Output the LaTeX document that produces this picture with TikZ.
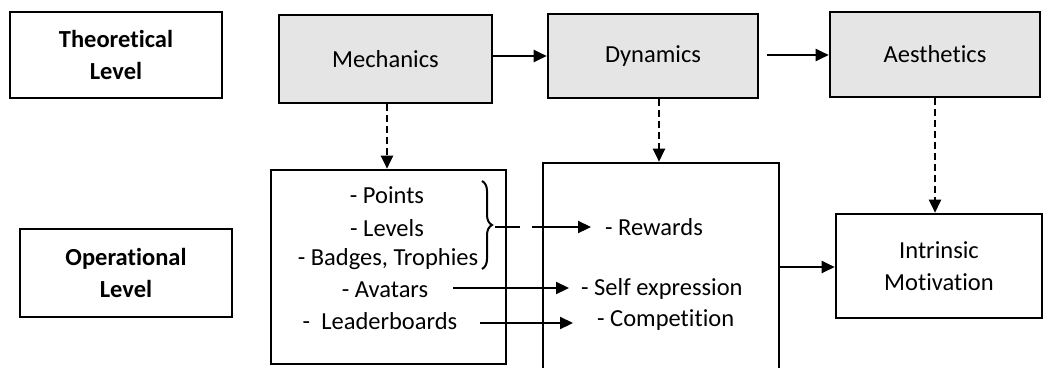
\documentclass[tikz,border=0pt]{standalone}
\usepackage{fontspec}
\setmainfont{Carlito}[Ligatures=NoCommon]
\usetikzlibrary{arrows.meta,decorations.pathreplacing}
\begin{document}
\begin{tikzpicture}[x=1pt,y=-1pt,
  box/.style={draw,line width=2.6pt,rectangle,inner sep=0pt,font=\fontsize{24.5}{32}\selectfont,align=center},
  gbox/.style={box,fill=gray!20},
  lvl/.style={box,font=\fontsize{24.5}{32}\selectfont\bfseries},
  txt/.style={inner sep=0pt,font=\fontsize{24.5}{30}\selectfont},
  arr/.style={line width=2.2pt,-{Triangle[length=13pt,width=12pt]}},
  darr/.style={arr,dash pattern=on 7pt off 4pt}]
\clip (0,0) rectangle (1048,367);
\useasboundingbox (0,0) rectangle (1048,367);
\node[lvl,minimum width=212pt,minimum height=86pt] (theo) at (116,55) {Theoretical\\Level};
\node[lvl,minimum width=212pt,minimum height=88pt] (oper) at (126,273) {Operational\\Level};
\node[gbox,minimum width=213pt,minimum height=88pt] (mech) at (385.5,59) {Mechanics};
\node[gbox,minimum width=210pt,minimum height=84pt] (dyn) at (653,56) {Dynamics};
\node[gbox,minimum width=210pt,minimum height=85pt] (aes) at (935,54.5) {Aesthetics};
\node[box,minimum width=235pt,minimum height=194pt] (mbox) at (388.5,267) {};
\node[box,minimum width=236pt,minimum height=260pt] (dbox) at (661,293) {};
\node[box,minimum width=206pt,minimum height=104pt] (intr) at (939,266) {Intrinsic\\Motivation};
% mechanics list
\node[txt] (pts) at (387,195) {- Points};
\node[txt] (lev) at (387,228) {- Levels};
\node[txt] (bad) at (388,259) {- Badges, Trophies};
\node[txt] (ava) at (385,290) {- Avatars};
\node[txt] (lea) at (380,321) {-\ \ Leaderboards};
% dynamics list
\node[txt,anchor=west] (rew) at (605,227) {- Rewards};
\node[txt,anchor=west] (sel) at (581,289) {- Self expression};
\node[txt,anchor=west] (com) at (597,320) {- Competition};
% brace
\draw[line width=2pt,decorate,decoration={brace,amplitude=10pt}] (482,181) -- (482,269);
\coordinate (brt) at (495,227);
% top arrows
\draw[arr] (mech.east |- 0,56) -- (dyn.west |- 0,56);
\draw[arr] (767,55) coordinate (d2) -- (aes.west |- d2);
% dashed verticals
\draw[darr] (mech.south -| 387,0) -- (mbox.north -| 387,0);
\draw[darr] (dyn.south -| 659,0) -- (dbox.north -| 659,0);
\draw[darr] (aes.south -| 935,0) -- (intr.north -| 935,0);
% operational arrows
\draw[arr,dash pattern=on 25pt off 12pt on 100pt] (brt) -- ([xshift=-14pt]rew.west);
\draw[arr] (453,288) -- ([xshift=-12pt]sel.west |- 0,288);
\draw[arr] (480,323) -- ([xshift=-24pt]com.west |- 0,323);
\draw[arr] (dbox.east |- 0,267) -- (intr.west |- 0,267);
\end{tikzpicture}
\end{document}
